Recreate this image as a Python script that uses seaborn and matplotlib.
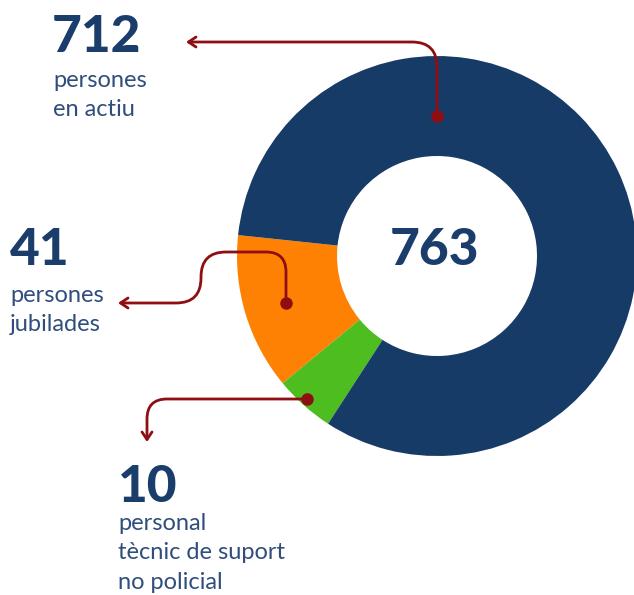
import matplotlib
matplotlib.use('Agg')
import matplotlib.pyplot as plt
import seaborn as sns
from matplotlib.path import Path
from matplotlib.patches import FancyArrowPatch
import numpy as np

##### Data ###################################################################

labels = ['persones\njubilades', 'personal\ntècnic de suport\nno policial', 'persones\nen actiu']
counts = [41, 10, 712]
# angular share of each ring segment as drawn in the picture (degrees)
shares = [45.5, 17.5, 297.0]
colors = ['#FF8103', '#4DBD1F', '#173B67']
total = 763

##### Styles #################################################################

sns.set_theme(style='white')
plt.rcParams['font.family'] = ['Lato', 'DejaVu Sans']

W, H = 634, 595
NAVY = '#1A3D6B'
LABEL = '#2F4E7C'
RED = '#8E0E12'


def yy(y):
    # picture pixel row -> data y (y axis points up)
    return H - y


def rounded_path(pts, radii):
    pts = [np.array([x, yy(y)], dtype=float) for x, y in pts]
    verts = [pts[0]]
    codes = [Path.MOVETO]
    for i in range(1, len(pts) - 1):
        p0, p1, p2 = pts[i - 1], pts[i], pts[i + 1]
        r = radii[i - 1]
        u1 = (p1 - p0) / np.linalg.norm(p1 - p0)
        u2 = (p2 - p1) / np.linalg.norm(p2 - p1)
        verts += [p1 - r * u1, p1, p1 + r * u2]
        codes += [Path.LINETO, Path.CURVE3, Path.CURVE3]
    verts.append(pts[-1])
    codes.append(Path.LINETO)
    return Path(verts, codes)


fig = plt.figure(figsize=(W / 100, H / 100), dpi=100)
ax = fig.add_axes([0, 0, 1, 1])

##### Donut ##################################################################

cx, cy = 437, 256
ax.pie(shares, colors=colors, startangle=174, counterclock=True,
       radius=200, center=(cx, yy(cy)),
       wedgeprops=dict(width=100, linewidth=0))
ax.set_xlim(0, W)
ax.set_ylim(0, H)
ax.set_aspect('equal')
ax.axis('off')

ax.text(cx - 2, yy(265), str(total), ha='center', va='baseline',
        fontsize=37, fontweight='black', color=NAVY)

##### Callouts ###############################################################

callouts = [
    # anchor dot, path to arrow tip, corner radii, number pos, text pos
    ((437, 116), [(437, 116), (437, 42), (186, 42)], [25], (52, 52), (53, 87)),
    ((286, 303), [(286, 303), (286, 252), (201, 252), (201, 303), (118, 303)], [20, 25, 25], (10, 265), (10, 302)),
    ((307, 399), [(307, 399), (147, 399), (147, 442)], [20], (118, 502), (118, 530)),
]
order = [2, 0, 1]

for (dot, pts, rad, npos, tpos), idx in zip(callouts, order):
    arrow = FancyArrowPatch(path=rounded_path(pts, rad),
                            arrowstyle='->,head_length=0.45,head_width=0.3',
                            mutation_scale=12, color=RED, linewidth=2)
    ax.add_patch(arrow)
    ax.plot(dot[0], yy(dot[1]), 'o', color=RED, markersize=8, zorder=5)
    ax.text(npos[0], yy(npos[1]), str(counts[idx]), ha='left', va='baseline',
            fontsize=37, fontweight='black', color=NAVY)
    for j, line in enumerate(labels[idx].split('\n')):
        ax.text(tpos[0], yy(tpos[1] + j * 29.3), line, ha='left', va='baseline',
                fontsize=17, fontweight='normal', color=LABEL)

plt.savefig('out.png', dpi=100)
